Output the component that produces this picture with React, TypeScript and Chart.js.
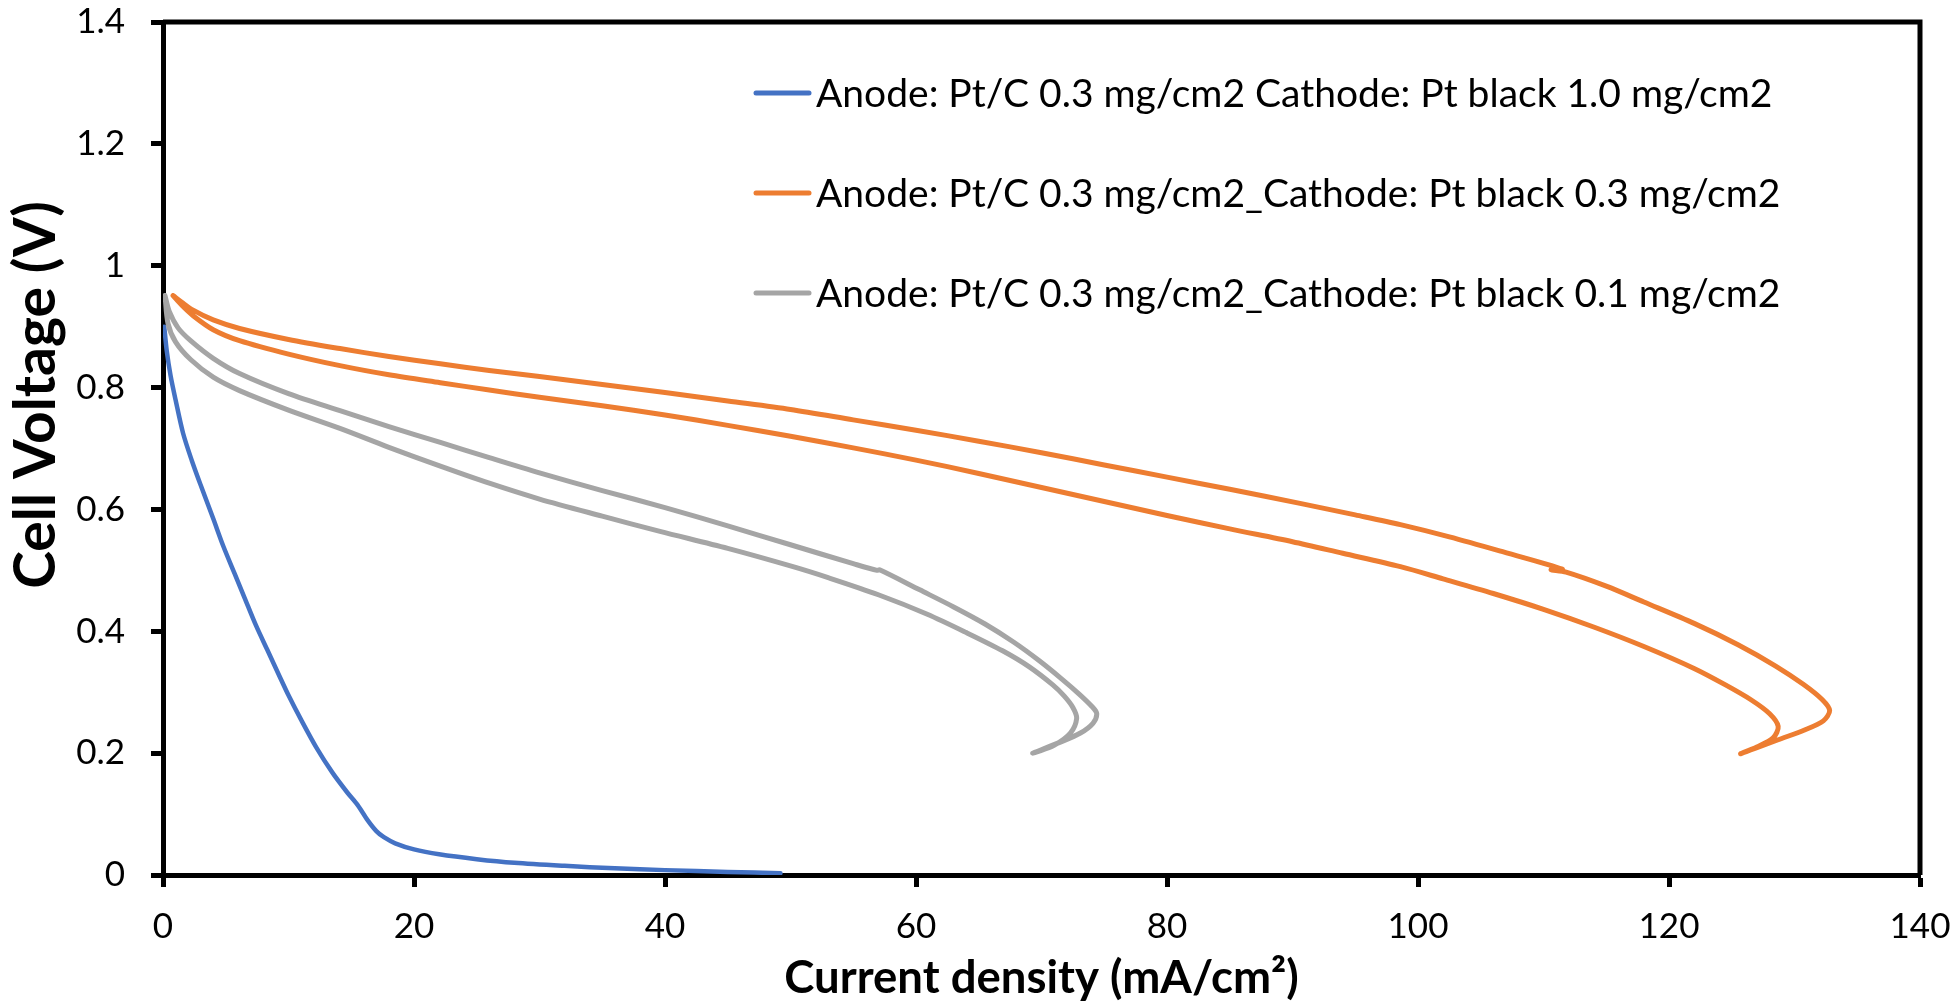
import React, { useEffect, useRef } from 'react';
import { Chart, registerables } from 'chart.js';

Chart.register(...registerables);

// ---------- data ----------
const seriesLabels = [
  'Anode: Pt/C 0.3 mg/cm2 Cathode: Pt black 1.0 mg/cm2',
  'Anode: Pt/C 0.3 mg/cm2_Cathode: Pt black 0.3 mg/cm2',
  'Anode: Pt/C 0.3 mg/cm2_Cathode: Pt black 0.1 mg/cm2',
];
const seriesColors = ['#4472C4', '#ED7D31', '#A5A5A5'];

const blueX = [0.1, 0.3, 0.6, 1.0, 1.6, 2.3, 3.0, 4.0, 4.8, 5.7, 6.5, 7.4, 8.3, 9.2, 10.0, 11.0, 12.2, 13.5, 14.7, 15.5, 16.3, 17.0, 17.6, 18.5, 20.0, 22.0, 25.0, 28.0, 32.0, 36.0, 40.0, 45.0, 49.2];
const blueY = [0.90, 0.86, 0.82, 0.78, 0.725, 0.68, 0.64, 0.585, 0.54, 0.495, 0.455, 0.41, 0.37, 0.33, 0.295, 0.255, 0.21, 0.168, 0.135, 0.115, 0.09, 0.072, 0.062, 0.052, 0.042, 0.034, 0.026, 0.02, 0.015, 0.011, 0.008, 0.005, 0.003];

// loop: upper branch -> outer tip -> end point -> inner tip -> lower branch
const orangeX = [0.8, 1.5, 2.4, 4.0, 6.1, 10.0, 14.1, 18.0, 22.1, 26.0, 30.0, 35.0, 40.0, 45.0, 50.0, 55.0, 60.0, 65.0, 70.0, 75.0, 80.0, 85.0, 90.6, 95.0, 98.6, 102.5, 106.5, 111.5, 110.6, 111.8, 115.0, 118.0, 122.0, 125.5, 128.5, 130.7, 132.2, 132.8, 132.3, 130.8, 128.7, 126.9, 125.7,
  127.0, 128.3, 128.7, 128.0, 126.5, 124.5, 122.0, 118.0, 114.0, 110.0, 106.0, 102.0, 98.6, 94.0, 90.0, 85.0, 80.0, 75.0, 70.0, 65.0, 60.0, 55.0, 50.0, 45.0, 40.0, 35.0, 30.0, 26.0, 22.1, 18.0, 14.1, 10.0, 6.1, 4.0, 2.4, 1.5, 0.8];
const orangeY = [0.951, 0.94, 0.927, 0.911, 0.897, 0.879, 0.864, 0.851, 0.839, 0.828, 0.818, 0.805, 0.792, 0.778, 0.764, 0.747, 0.73, 0.712, 0.693, 0.673, 0.653, 0.633, 0.61, 0.591, 0.575, 0.555, 0.532, 0.502, 0.501, 0.497, 0.474, 0.448, 0.413, 0.378, 0.343, 0.313, 0.288, 0.27, 0.253, 0.238, 0.222, 0.208, 0.199,
  0.21, 0.225, 0.244, 0.265, 0.288, 0.312, 0.339, 0.375, 0.407, 0.436, 0.462, 0.486, 0.506, 0.528, 0.547, 0.568, 0.59, 0.613, 0.636, 0.659, 0.681, 0.701, 0.72, 0.738, 0.755, 0.77, 0.784, 0.796, 0.808, 0.821, 0.836, 0.855, 0.877, 0.895, 0.918, 0.935, 0.951];

const grayX = [0.16, 0.5, 1.2, 2.2, 4.0, 6.1, 10.0, 14.1, 18.0, 22.1, 26.0, 30.0, 35.0, 40.0, 45.0, 50.0, 55.0, 56.9, 57.1, 60.3, 63.0, 65.5, 67.8, 69.8, 71.6, 73.0, 74.0, 74.4, 74.1, 73.1, 71.5, 69.3,
  71.0, 72.3, 72.8, 72.5, 71.8, 70.9, 69.0, 66.9, 64.0, 60.9, 57.0, 53.0, 50.2, 45.0, 39.6, 35.0, 30.0, 26.0, 22.1, 18.0, 14.1, 10.0, 6.1, 4.0, 2.2, 1.0, 0.4, 0.16];
const grayY = [0.951, 0.925, 0.898, 0.877, 0.848, 0.823, 0.79, 0.762, 0.736, 0.71, 0.685, 0.66, 0.631, 0.603, 0.573, 0.542, 0.511, 0.5, 0.501, 0.468, 0.44, 0.412, 0.382, 0.352, 0.322, 0.297, 0.277, 0.265, 0.249, 0.233, 0.218, 0.2,
  0.213, 0.233, 0.257, 0.275, 0.294, 0.312, 0.342, 0.368, 0.398, 0.428, 0.46, 0.488, 0.506, 0.536, 0.564, 0.589, 0.617, 0.643, 0.671, 0.702, 0.733, 0.763, 0.795, 0.817, 0.846, 0.875, 0.905, 0.951];

const xTitle = 'Current density (mA/cm\u00B2)';
const yTitle = 'Cell Voltage (V)';
const xMin = 0, xMax = 140, xStep = 20;
const yMin = 0, yMax = 1.4, yStep = 0.2;

// ---------- styles ----------
const FONT = 'Lato, "Open Sans", sans-serif';
const TICK_SIZE = 35;
const LEGEND_SIZE = 39;
const XTITLE_SIZE = 45.5;
const YTITLE_SIZE = 57;

const toPts = (xs: number[], ys: number[]) => xs.map((x, i) => ({ x, y: ys[i] }));
const fmt = (v: any) => String(Number(Number(v).toFixed(2)));

const overlayPlugin = {
  id: 'overlay',
  afterDraw(chart: any) {
    const { ctx, chartArea: a } = chart;
    ctx.save();
    // top and right frame
    ctx.strokeStyle = '#000';
    ctx.lineWidth = 5;
    ctx.beginPath();
    ctx.moveTo(a.left, a.top);
    ctx.lineTo(a.right, a.top);
    ctx.lineTo(a.right, a.bottom);
    ctx.stroke();

    // legend
    const ds = chart.data.datasets;
    ctx.font = `${LEGEND_SIZE}px ${FONT}`;
    ctx.textBaseline = 'middle';
    ctx.textAlign = 'left';
    for (let i = 0; i < ds.length; i++) {
      const y = a.top + 71 + i * 100;
      const x0 = a.left + 593;
      ctx.strokeStyle = ds[i].borderColor;
      ctx.lineWidth = 5;
      ctx.lineCap = 'round';
      ctx.beginPath();
      ctx.moveTo(x0, y);
      ctx.lineTo(x0 + 53, y);
      ctx.stroke();
      ctx.fillStyle = '#000';
      ctx.fillText(ds[i].label, x0 + 60, y + 1);
    }

    // y axis title
    ctx.save();
    ctx.translate(37, 395);
    ctx.rotate(-Math.PI / 2);
    ctx.font = `bold ${YTITLE_SIZE}px ${FONT}`;
    ctx.textAlign = 'center';
    ctx.textBaseline = 'middle';
    ctx.fillStyle = '#000';
    ctx.fillText(yTitle, 0, 0);
    ctx.restore();
    ctx.restore();
  },
};

export default function App() {
  const ref = useRef<HTMLCanvasElement>(null);
  useEffect(() => {
    let chart: Chart | null = null;
    let cancelled = false;
    const make = () => {
      if (cancelled || !ref.current) return;
      const datasets = [
        { pts: toPts(blueX, blueY), w: 4.5 },
        { pts: toPts(orangeX, orangeY), w: 5 },
        { pts: toPts(grayX, grayY), w: 5 },
      ].map((d, i) => ({
        label: seriesLabels[i],
        data: d.pts,
        showLine: true,
        borderColor: seriesColors[i],
        backgroundColor: seriesColors[i],
        borderWidth: d.w,
        pointRadius: 0,
        tension: 0.3,
        borderCapStyle: 'round' as const,
        borderJoinStyle: 'round' as const,
        fill: false,
        order: 3 - i,
      }));
      chart = new Chart(ref.current, {
        type: 'scatter',
        data: { datasets },
        plugins: [overlayPlugin],
        options: {
          responsive: false,
          animation: false,
          devicePixelRatio: 1,
          layout: { padding: { left: 0, top: 22, right: 37, bottom: 0 } },
          plugins: { legend: { display: false }, tooltip: { enabled: false } },
          scales: {
            x: {
              type: 'linear',
              min: xMin,
              max: xMax,
              afterFit: (s: any) => { s.height = 126; s.paddingLeft = 0; s.paddingRight = 0; },
              ticks: { stepSize: xStep, color: '#000', font: { family: FONT, size: TICK_SIZE }, padding: 19, maxRotation: 0, callback: fmt },
              grid: { display: true, drawOnChartArea: false, drawTicks: true, tickLength: 12, tickWidth: 5, tickColor: '#000' },
              border: { display: true, color: '#000', width: 5 },
              title: { display: true, text: xTitle, color: '#000', font: { family: FONT, size: XTITLE_SIZE, weight: 'bold', lineHeight: 1 }, padding: 0 },
            },
            y: {
              type: 'linear',
              min: yMin,
              max: yMax,
              afterFit: (s: any) => { s.width = 163; s.paddingTop = 0; s.paddingBottom = 0; },
              ticks: { stepSize: yStep, color: '#000', font: { family: FONT, size: TICK_SIZE }, padding: 26, callback: fmt },
              grid: { display: true, drawOnChartArea: false, drawTicks: true, tickLength: 12, tickWidth: 5, tickColor: '#000' },
              border: { display: true, color: '#000', width: 5 },
            },
          },
        },
      });
    };
    const fonts = (document as any).fonts;
    if (fonts && fonts.load) {
      Promise.all([
        fonts.load(`${TICK_SIZE}px Lato`),
        fonts.load(`bold ${XTITLE_SIZE}px Lato`),
      ]).then(make, make);
    } else {
      make();
    }
    return () => {
      cancelled = true;
      if (chart) chart.destroy();
    };
  }, []);
  return (
    <div style={{ position: 'fixed', left: 0, top: 0, width: 1957, height: 1001, background: '#fff' }}>
      <canvas ref={ref} width={1957} height={1001} style={{ display: 'block', width: 1957, height: 1001 }} />
    </div>
  );
}
